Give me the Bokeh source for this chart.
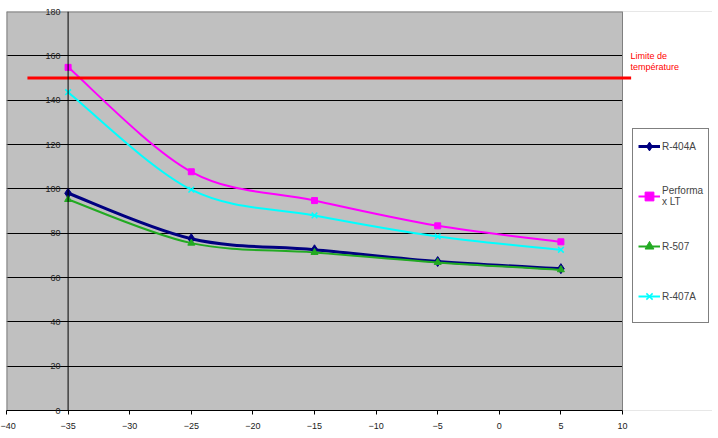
from bokeh.plotting import figure
from bokeh.models import Legend, LegendItem, Span, Label, Range1d, FixedTicker
from bokeh.embed import file_html
from bokeh.resources import INLINE

temps = [-35, -25, -15, -5, 5]
r404a = [98.0, 77.5, 72.5, 67.2, 64.0]
performax = [154.8, 107.7, 94.7, 83.3, 76.1]
r507 = [95.2, 75.5, 71.3, 66.8, 63.5]
r407a = [143.6, 99.6, 88.0, 78.5, 72.5]
limit_value = 150
limit_x = [-38.3, 10.7]
limit_label = "Limite de\ntempérature"
x_ticks = [-40, -35, -30, -25, -20, -15, -10, -5, 0, 5, 10]
y_ticks = [0, 20, 40, 60, 80, 100, 120, 140, 160, 180]

x_min, x_max = -40, 10
y_min, y_max = 0, 180
plot_px = 616          # pixel width of the -40..10 plot area
frame_px = 706         # frame extends under the legend area
x_view_end = x_min + (x_max - x_min) * frame_px / plot_px


def bez(xs, ys):
    n = len(xs)
    d = dict(x0=[], y0=[], x1=[], y1=[], cx0=[], cy0=[], cx1=[], cy1=[])
    for i in range(n - 1):
        a = i - 1 if i > 0 else i
        b = i + 2 if i + 2 < n else i + 1
        d["x0"].append(xs[i]); d["y0"].append(ys[i])
        d["x1"].append(xs[i + 1]); d["y1"].append(ys[i + 1])
        d["cx0"].append(xs[i] + (xs[i + 1] - xs[a]) / 6)
        d["cy0"].append(ys[i] + (ys[i + 1] - ys[a]) / 6)
        d["cx1"].append(xs[i + 1] - (xs[b] - xs[i]) / 6)
        d["cy1"].append(ys[i + 1] - (ys[b] - ys[i]) / 6)
    return d


p = figure(frame_width=frame_px, frame_height=399, output_backend="svg", toolbar_location=None,
           x_range=Range1d(x_min, x_view_end), y_range=Range1d(y_min, y_max),
           min_border_left=6, min_border_top=11, min_border_bottom=0, min_border_right=0,
           background_fill_color="#C0C0C0", border_fill_color="white")
p.outline_line_color = None
p.xgrid.visible = False
p.ygrid.grid_line_color = "black"
p.ygrid.ticker = FixedTicker(ticks=y_ticks)
p.xaxis.ticker = FixedTicker(ticks=x_ticks)
p.yaxis.ticker = FixedTicker(ticks=y_ticks)
p.xaxis.bounds = (x_min, x_max)

for ax in (p.xaxis, p.yaxis):
    ax.major_label_text_font = "Liberation Sans"
    ax.major_label_text_font_size = "9px"
    ax.major_label_text_color = "#222222"
    ax.minor_tick_line_color = None
p.xaxis.axis_line_color = "black"
p.xaxis.major_tick_line_color = "black"
p.xaxis.major_tick_out = 4
p.xaxis.major_tick_in = 0
p.xaxis.major_label_standoff = 8
p.yaxis.axis_line_color = None
p.yaxis.major_tick_line_color = None
p.yaxis.major_tick_out = 0
p.yaxis.major_tick_in = 0
p.yaxis.major_label_standoff = -54

# white area to the right of the plot area (legend zone)
p.quad(left=[x_max], right=[x_view_end], bottom=[y_min], top=[y_max],
       fill_color="white", line_color=None)
# plot-area border
p.line([x_min, x_min], [y_min, y_max], line_color="#808080", line_width=2)
p.line([x_min, x_max], [y_max, y_max], line_color="#808080", line_width=2)
p.line([x_max, x_max], [y_min, y_max], line_color="#808080", line_width=1)

p.add_layout(Span(location=-35, dimension="height", line_color="black", line_width=1))

series = [
    ("R-404A", r404a, "#000080", 3, "diamond", 10),
    ("Performax LT", performax, "#FF00FF", 2, "square", 6),
    ("R-507", r507, "#22AA22", 2, "triangle", 7),
    ("R-407A", r407a, "#00FFFF", 2, "x", 8),
]
items = []
for name, ys, col, lw, mk, sz in series:
    br = p.bezier(source=bez(temps, ys), x0="x0", y0="y0", x1="x1", y1="y1",
                  cx0="cx0", cy0="cy0", cx1="cx1", cy1="cy1", line_color=col, line_width=lw)
    sr = p.scatter(temps, ys, marker=mk, size=sz, fill_color=col, line_color=col,
                   line_width=1.5 if mk == "x" else 1)
    label = "Performa\nx LT" if name == "Performax LT" else name
    items.append(LegendItem(label=label, renderers=[br, sr]))

p.line(limit_x, [limit_value, limit_value], line_color="#FF0000", line_width=3)

p.add_layout(Label(x=10.65, y=162, text=limit_label, text_color="#FF0000",
                   text_font="Liberation Sans", text_font_size="9px",
                   text_baseline="top", text_line_height=1.1))

legend = Legend(items=items, location=(626, 87), border_line_color="black", border_line_width=1,
                background_fill_color="white", background_fill_alpha=1,
                label_text_font="Liberation Sans", label_text_font_size="10px",
                glyph_width=22, glyph_height=24, label_height=24, label_standoff=2,
                spacing=26, padding=5, margin=0,
                title=" ", title_location="below", title_text_font_size="8px", title_standoff=0)
p.add_layout(legend, "center")

open("out.html", "w").write(file_html(p, INLINE))
